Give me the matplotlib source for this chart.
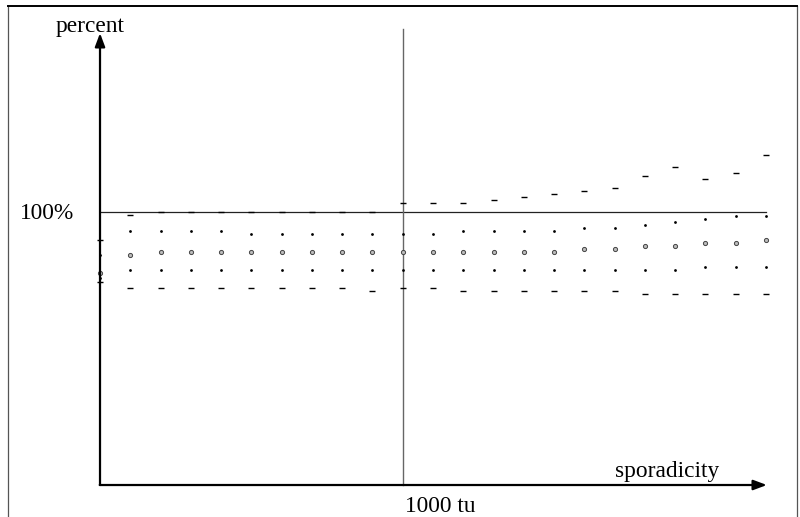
import matplotlib
matplotlib.use("Agg")
import matplotlib.pyplot as plt

# ---- data (x in time units, y in percent) ----
sporadicity = [0, 100, 200, 300, 400, 500, 600, 700, 800, 900, 1000, 1100,
               1200, 1300, 1400, 1500, 1600, 1700, 1800, 1900, 2000, 2100, 2200]
max_vals = [89.8, 98.9, 100, 100, 100, 100, 100, 100, 100, 100, 103.3, 103.3,
            103.4, 104.4, 105.5, 106.7, 107.7, 108.8, 113.3, 116.6, 112.2, 114.4, 121.0]
upper_q = [84.3, 93.1, 93.1, 93.1, 93.1, 92.2, 92.2, 92.2, 92.2, 92.2, 92.2, 92.2,
           93.2, 93.2, 93.2, 93.2, 94.4, 94.4, 95.5, 96.6, 97.7, 98.8, 98.8]
median = [77.9, 84.3, 85.6, 85.6, 85.6, 85.6, 85.6, 85.6, 85.6, 85.6, 85.6, 85.6,
          85.5, 85.5, 85.5, 85.5, 86.5, 86.5, 87.7, 87.7, 88.9, 88.9, 90.0]
lower_q = [75.8, 79.0, 79.0, 79.0, 79.0, 79.0, 79.0, 79.0, 79.0, 79.0, 79.0, 79.0,
           78.9, 78.9, 78.9, 78.9, 78.9, 78.9, 78.8, 78.8, 80.1, 80.1, 80.1]
min_vals = [74.3, 72.4, 72.4, 72.4, 72.4, 72.4, 72.4, 72.4, 72.4, 71.3, 72.4, 72.4,
            71.2, 71.1, 71.1, 71.1, 71.1, 71.1, 70.0, 70.0, 70.0, 70.0, 70.0]
ref_x = 1000
ref_x_label = "1000 tu"
ref_y = 100
ref_y_label = "100%"
x_label = "sporadicity"
y_label = "percent"

plt.rcParams['font.family'] = ['Liberation Serif', 'DejaVu Serif']
FS = 16.8

fig = plt.figure(figsize=(8.0, 5.17), dpi=100)
ax = fig.add_axes([0, 0, 1, 1])
ax.set_xlim(-330.4, 2312.5)
ax.set_ylim(-11.73, 177.85)
ax.axis('off')

# frame (left, top, right)
ax.plot([0.01, 0.01], [-0.1, 0.988], transform=ax.transAxes,
        color='#555555', lw=0.9, clip_on=False)
ax.plot([0.996, 0.996], [-0.1, 0.988], transform=ax.transAxes,
        color='#555555', lw=0.9, clip_on=False)
ax.plot([0.01, 0.996], [0.988, 0.988], transform=ax.transAxes,
        color='black', lw=1.4, clip_on=False)

# reference lines
ax.plot([0, sporadicity[-1]], [ref_y, ref_y], color='#222222', lw=0.9)
ax.plot([ref_x, ref_x], [0, 167.3], color='#666666', lw=1.0)

# axes with arrows
arrow_kw = dict(arrowstyle='-|>,head_length=0.8,head_width=0.3', lw=1.6,
                color='black', shrinkA=0, shrinkB=0, mutation_scale=10)
ax.annotate('', xy=(0, 165.7), xytext=(0, 0), arrowprops=arrow_kw)
ax.annotate('', xy=(2203, 0), xytext=(-1, 0), arrowprops=arrow_kw)

# markers
ax.plot(sporadicity, max_vals, ls='none', marker='_', ms=4.6, mew=1.0, color='black')
ax.plot(sporadicity, min_vals, ls='none', marker='_', ms=4.6, mew=1.0, color='black')
ax.plot(sporadicity, upper_q, ls='none', marker='o', ms=2.0, mew=0, color='black')
ax.plot(sporadicity, lower_q, ls='none', marker='o', ms=2.0, mew=0, color='black')
ax.plot(sporadicity, median, ls='none', marker='o', ms=3.0, mew=0.7,
        mfc='#bbbbbb', mec='#444444')

# labels
ax.text(-33, 166.1, y_label, ha='center', va='baseline', fontsize=FS)
ax.text(1701, 2.9, x_label, ha='left', va='baseline', fontsize=FS)
ax.text(1008, -9.9, ref_x_label, ha='left', va='baseline', fontsize=FS)
ax.text(-264.3, 97.4, ref_y_label, ha='left', va='baseline', fontsize=FS)

fig.savefig('out.png', dpi=100)
